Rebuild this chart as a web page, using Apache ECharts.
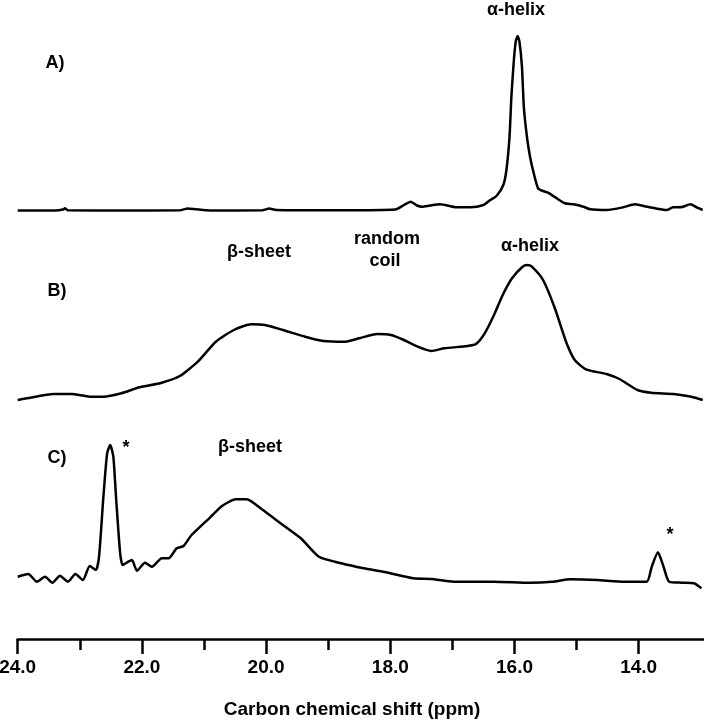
<!DOCTYPE html>
<html><head><meta charset="utf-8">
<script src="https://cdn.jsdelivr.net/npm/echarts@6/dist/echarts.min.js"></script>
<style>html,body{margin:0;padding:0;background:#fff}#c{width:704px;height:720px}</style>
</head><body><div id="c"></div>
<script>
// Spectrum A (alpha-helix dominated)
const shiftA = [24.00,23.40,23.27,23.24,23.19,22.35,21.39,21.26,21.13,20.90,20.06,19.95,19.84,18.81,17.92,17.78,17.67,17.57,17.49,17.36,17.20,16.93,16.71,16.50,16.39,16.29,16.18,16.13,16.08,16.05,16.01,15.98,15.95,15.92,15.88,15.85,15.80,15.75,15.69,15.62,15.54,15.46,15.32,15.19,15.05,14.89,14.78,14.52,14.25,14.06,13.87,13.72,13.55,13.45,13.30,13.17,13.06,12.97];
const intensityA = [0,0,1,2.2,0.2,0,0.2,2,1.2,0,0.2,2,0.5,0.2,1,5.5,8.8,5,3.8,5,6.2,3.2,3.2,5.5,10.5,14.5,25.5,40.5,73.8,113.8,150.5,168.8,174.5,168.8,143.8,103.8,73.8,53.8,37.2,22.2,19.5,17.8,12.2,7.2,6.2,3.8,1.2,0.5,3.2,6.2,3.8,2,0.5,3.2,3.5,6.2,3,0.5];
// Spectrum B (beta-sheet, random coil, alpha-helix)
const shiftB = [24.00,23.85,23.42,23.13,22.84,22.62,22.33,22.04,21.68,21.39,21.10,20.81,20.52,20.24,20.02,19.73,19.37,19.08,18.72,18.50,18.21,17.99,17.78,17.56,17.34,17.13,16.76,16.62,16.48,16.33,16.19,16.04,15.87,15.79,15.72,15.54,15.35,15.17,15.03,14.85,14.52,14.31,14.02,13.80,13.44,13.15,12.97];
const intensityB = [0,1.7,6,6,3.3,3.3,6.7,12.7,17.3,24,38.3,58.3,70,75.7,75,70,63.3,59,58.3,61.7,66,65,60,53.3,49,51.7,54,56,66.7,85,105,121.7,133.3,135,133.3,120,91.7,58.3,40,30.7,26,21,10,7.3,6,3.3,0];
// Spectrum C (beta-sheet with reference peaks *)
const shiftC = [24.00,23.83,23.69,23.56,23.44,23.32,23.19,23.07,22.95,22.84,22.74,22.69,22.62,22.56,22.51,22.46,22.41,22.35,22.31,22.22,22.16,22.08,21.95,21.84,21.68,21.57,21.44,21.33,21.20,20.90,20.71,20.49,20.31,20.09,19.73,19.44,19.15,18.79,18.43,18.07,17.63,17.34,16.98,16.33,15.75,15.39,15.10,14.67,14.23,13.87,13.79,13.69,13.60,13.51,13.30,13.11,12.99];
const intensityC = [4.3,7,-0.7,4.3,-1.7,5.3,-0.7,7,1,15,11,24.3,84.3,127.7,136,124.3,77.7,27.7,16,19.3,21,10.3,18.3,14.3,22.7,22.7,32.7,35,46,63.7,75,81.7,81.7,72.7,56,42.7,24.3,17.7,12.7,8.7,2.7,2,-0.7,-0.7,-1.7,-0.7,1.7,1,-0.7,-0.7,14.3,28.7,14.3,-0.7,-1.7,-2.3,-7.3];

// Axis ticks (major ticks every 2 ppm, labelled; minor ticks at odd values)
const majorInterval = 2;
const minorTicks = [23, 21, 19, 17, 15];
const axisTitle = 'Carbon chemical shift (ppm)';
const panelLabels = ['A)', 'B)', 'C)'];

const pairs = (xs, ys) => xs.map((x, i) => [x, ys[i]]);
const FONT = '"Liberation Sans", Arial, sans-serif';
const X_MIN = 12, X_MAX = 24;

const chart = echarts.init(document.getElementById('c'), null, {renderer: 'canvas'});
const gridCommon = {left: 17.7, right: -58.9, containLabel: false, outerBoundsMode: 'none'};
const hiddenX = (gi) => ({type: 'value', gridIndex: gi, min: X_MIN, max: X_MAX, inverse: true, show: false});
const hiddenY = (gi, mn, mx) => ({type: 'value', gridIndex: gi, min: mn, max: mx, show: false});
const lineSeries = (gi, data) => ({
  type: 'line', xAxisIndex: gi, yAxisIndex: gi, data: data, showSymbol: false,
  smooth: 0.2, lineStyle: {color: '#000', width: 2.5}, silent: true
});
function txt(x, y, s, size) {
  return {type: 'text', x: x, y: y, silent: true,
    style: {text: s, font: 'bold ' + (size || 18) + 'px ' + FONT, fill: '#000', align: 'center', verticalAlign: 'middle'}};
}
chart.setOption({
  animation: false,
  backgroundColor: '#fff',
  grid: [
    Object.assign({top: 30.5, height: 190}, gridCommon),
    Object.assign({top: 260, height: 150}, gridCommon),
    Object.assign({top: 431, height: 208}, gridCommon)
  ],
  xAxis: [hiddenX(0), hiddenX(1), {
    type: 'value', gridIndex: 2, position: 'bottom', min: X_MIN, max: X_MAX, interval: majorInterval, inverse: true,
    axisLine: {show: true, onZero: false, lineStyle: {color: '#000', width: 2.5}},
    axisTick: {show: true, length: 15, lineStyle: {color: '#000', width: 2.5}},
    splitLine: {show: false},
    axisLabel: {margin: 19, color: '#000', fontWeight: 'bold', fontSize: 19, fontFamily: FONT,
      formatter: v => Number(v).toFixed(1)}
  }, {
    type: 'value', gridIndex: 2, position: 'bottom', min: X_MIN, max: X_MAX, inverse: true,
    axisLine: {show: false, onZero: false},
    axisTick: {show: true, length: 11, customValues: minorTicks, lineStyle: {color: '#000', width: 2.5}},
    splitLine: {show: false},
    axisLabel: {show: false}
  }],
  yAxis: [hiddenY(0, -10, 180), hiddenY(1, -10, 140), hiddenY(2, -58, 150)],
  series: [
    lineSeries(0, pairs(shiftA, intensityA)),
    lineSeries(1, pairs(shiftB, intensityB)),
    lineSeries(2, pairs(shiftC, intensityC))
  ],
  graphic: [
    txt(516, 10, 'α-helix'),
    txt(55, 63, panelLabels[0]),
    txt(259, 252, 'β-sheet'),
    txt(387, 239, 'random'),
    txt(385, 261, 'coil'),
    txt(530, 246, 'α-helix'),
    txt(57, 291, panelLabels[1]),
    txt(57, 458, panelLabels[2]),
    txt(126, 448, '*'),
    txt(250, 447, 'β-sheet'),
    txt(670, 535, '*'),
    txt(352, 710, axisTitle, 19)
  ]
});
</script>
</body></html>
